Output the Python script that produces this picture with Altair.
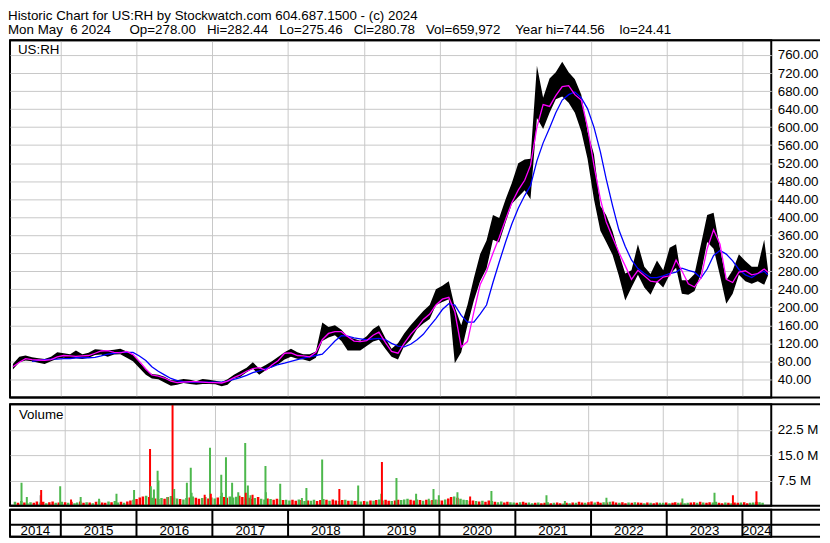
import altair as alt
import pandas as pd

FONT = "Liberation Sans"
FS = 13.4
W, H_PRICE, H_VOL, H_AX = 765, 359, 102, 27
EXT = 49
GREEN, RED, GRAY = "#4db84d", "#ff0000", "#a0a0a0"
CMAP = {"g": GREEN, "r": RED, "a": GRAY}
NB = "\u00a0"

TITLE_1 = "Historic Chart for US:RH by Stockwatch.com 604.687.1500 - (c) 2024"
TITLE_2 = ("Mon May" + NB * 2 + "6 2024" + NB * 5 + "Op=278.00" + NB * 3 + "Hi=282.44" + NB * 3 +
           "Lo=275.46" + NB * 3 + "Cl=280.78" + NB * 3 + "Vol=659,972" + NB * 4 +
           "Year hi=744.56" + NB * 4 + "lo=24.41")

# ---- price envelope by month (May 2014 .. May 2024) ----
low_2014 = [62, 78, 82, 80, 77, 74, 80, 86]
low_2015 = [88, 86, 87, 85, 88, 94, 95, 90, 95, 96, 88, 80]
low_2016 = [65, 50, 42, 40, 33, 26, 28, 32, 30, 28, 30, 30]
low_2017 = [29, 25, 28, 42, 45, 56, 64, 50, 60, 67, 74, 84]
low_2018 = [90, 86, 84, 80, 88, 125, 133, 138, 125, 104, 104, 104]
low_2019 = [114, 124, 128, 108, 90, 84, 114, 128, 152, 164, 174, 205]
low_2020 = [212, 218, 76, 100, 160, 215, 258, 286, 350, 344, 388, 430]
low_2021 = [445, 460, 440, 620, 596, 632, 662, 668, 654, 632, 590, 530]
low_2022 = [440, 370, 345, 316, 270, 215, 244, 272, 244, 228, 258, 244]
low_2023 = [272, 288, 230, 228, 236, 275, 345, 330, 270, 208, 230, 272]
low_2024 = [258, 252, 258, 250, 270]

high_2014 = [74, 90, 93, 89, 87, 85, 90, 100]
high_2015 = [98, 96, 104, 96, 99, 107, 106, 104, 106, 108, 102, 94]
high_2016 = [78, 62, 52, 50, 46, 38, 38, 41, 39, 36, 41, 39]
high_2017 = [37, 34, 40, 50, 58, 66, 78, 64, 72, 80, 90, 100]
high_2018 = [108, 100, 96, 96, 102, 166, 156, 160, 150, 135, 130, 126]
high_2019 = [136, 152, 160, 132, 108, 120, 142, 160, 176, 192, 205, 240]
high_2020 = [248, 258, 200, 160, 205, 265, 318, 348, 405, 398, 440, 476]
high_2021 = [520, 528, 530, 736, 665, 708, 722, 745, 722, 706, 672, 590]
high_2022 = [540, 425, 405, 368, 320, 275, 282, 340, 290, 274, 304, 282]
high_2023 = [332, 340, 260, 260, 274, 340, 405, 410, 330, 260, 282, 318]
high_2024 = [303, 290, 290, 350, 285]

# short moving average (magenta), May 2014 .. May 2024
fast_2014 = [68, 78, 86, 84, 83, 82, 84, 90]
fast_2015 = [93, 92, 91, 92, 93, 98, 103, 104, 100, 99, 102, 95]
fast_2016 = [80, 63, 50, 47, 43, 36, 33, 34, 35, 35, 34, 33]
fast_2017 = [33, 32, 36, 44, 50, 58, 64, 66, 60, 72, 82, 98]
fast_2018 = [99, 93, 92, 90, 100, 128, 142, 146, 146, 135, 125, 124]
fast_2019 = [126, 138, 145, 122, 102, 98, 120, 140, 155, 173, 185, 205]
fast_2020 = [218, 222, 190, 112, 124, 190, 250, 280, 320, 355, 395, 432]
fast_2021 = [460, 482, 515, 600, 650, 646, 670, 690, 692, 672, 660, 600]
fast_2022 = [515, 440, 390, 355, 322, 292, 262, 282, 270, 258, 256, 267]
fast_2023 = [270, 305, 281, 252, 245, 265, 330, 372, 340, 262, 255, 278]
fast_2024 = [281, 272, 275, 285, 278]

# long moving average (blue), Aug 2014 .. May 2024
slow_2014 = [80, 82, 84, 85, 85]
slow_2015 = [86, 86, 88, 88, 88, 89, 92, 96, 98, 100, 100, 100]
slow_2016 = [92, 82, 68, 58, 50, 42, 37, 35, 34, 34, 34, 34]
slow_2017 = [34, 34, 36, 40, 44, 49, 55, 59, 64, 68, 73, 76]
slow_2018 = [80, 84, 87, 90, 93, 96, 110, 125, 137, 136, 132, 130]
slow_2019 = [128, 130, 131, 128, 120, 114, 112, 118, 128, 140, 158, 175]
slow_2020 = [195, 208, 205, 182, 167, 167, 185, 205, 255, 300, 345, 385]
slow_2021 = [420, 448, 470, 525, 565, 598, 632, 660, 672, 678, 665, 641]
slow_2022 = [600, 545, 485, 425, 372, 335, 305, 286, 275, 266, 266, 270]
slow_2023 = [275, 278, 287, 282, 278, 265, 285, 315, 326, 318, 303, 284]
slow_2024 = [272, 266, 275, 280, 272]

# ---- half-monthly volume (millions) and bar colours ----
v2014 = [1.2, 0.9, 1.4, 1.0, 0.8, 1.1, 0.9, 1.3, 1.0, 1.2, 0.8, 1.1, 1.3, 0.9, 1.0, 1.2]
v2015 = [1.1, 0.9, 1.2, 0.8, 1.0, 1.3, 0.9, 1.1, 1.0, 0.8, 1.2, 1.5, 1.0, 0.9, 1.3, 1.1, 1.4, 1.0, 1.2, 0.9, 1.3, 1.6, 1.8, 2.0]
v2016 = [2.5, 2.8, 3.0, 2.6, 2.4, 2.2, 2.0, 2.3, 2.1, 2.6, 2.9, 2.4, 2.2, 2.0, 1.9, 2.3, 2.5, 2.8, 2.4, 2.1, 2.3, 2.6, 2.2, 2.5]
v2017 = [2.2, 2.5, 2.9, 2.6, 2.4, 2.8, 2.5, 2.7, 3.0, 2.6, 2.2, 2.4, 2.0, 2.3, 2.6, 2.1, 1.9, 2.2, 2.0, 1.8, 2.1, 1.9, 1.7, 1.8]
v2018 = [1.6, 1.8, 1.5, 1.9, 1.7, 1.4, 1.6, 1.5, 1.8, 1.4, 1.7, 2.0, 1.8, 1.5, 1.9, 1.6, 1.4, 1.7, 1.8, 1.5, 1.6, 1.4, 1.5, 1.3]
v2019 = [1.4, 1.3, 1.6, 1.5, 1.7, 1.9, 1.6, 1.8, 1.5, 1.4, 1.6, 1.8, 1.7, 1.9, 2.1, 1.8, 1.6, 1.9, 1.7, 1.5, 1.8, 1.6, 1.7, 1.9]
v2020 = [1.8, 1.6, 1.9, 2.2, 2.6, 2.8, 2.4, 2.1, 1.8, 1.7, 1.5, 1.6, 1.4, 1.3, 1.5, 1.2, 1.6, 1.4, 1.2, 1.1, 1.3, 1.0, 1.2, 1.1]
v2021 = [1.0, 0.9, 1.1, 1.2, 0.9, 1.0, 0.8, 0.9, 1.0, 0.8, 0.9, 1.1, 0.8, 0.9, 1.0, 0.8, 0.7, 0.9, 0.8, 1.0, 0.9, 1.2, 1.0, 0.9]
v2022 = [1.1, 1.3, 1.0, 1.2, 0.9, 1.1, 1.0, 1.2, 1.3, 1.0, 0.9, 1.1, 0.8, 1.0, 0.9, 1.1, 1.0, 0.9, 0.8, 1.0, 0.9, 0.8, 1.0, 0.9]
v2023 = [0.9, 1.0, 0.8, 0.9, 1.1, 0.9, 1.0, 0.8, 0.9, 1.0, 1.1, 0.9, 1.2, 1.0, 0.9, 1.1, 1.0, 1.2, 0.9, 0.8, 1.0, 0.9, 0.8, 1.0]
v2024 = [0.9, 1.0, 1.1, 0.8, 0.9, 1.0, 1.2, 1.1, 0.9]

c2014 = "grgrggrrgrgrrgrg"
c2015 = "rgrggrrgrgrgrrgrggrgrrgr"
c2016 = "rrgrgrggrrgrgrggrgrrggrg"
c2017 = "grgrrgggrrgrrgrggrgrrgrg"
c2018 = "grrgrgrggrrgrgrrgrgrgrrg"
c2019 = "rgrgrggrrgrrgggrrgrgrgrg"
c2020 = "rrgrrgrgggrrgrgrrgrggrrg"
c2021 = "grgrrggrgrrgrgrrgrgrgrrg"
c2022 = "rrgrrgrgrrgrrgrgrrgrgrrg"
c2023 = "grgrrgrggrrgrgrrggrrgrgr"
c2024 = "rgrrggrgg"

# volume spikes
spike_dates = ["2014-06-02", "2014-06-28", "2014-09-03", "2014-09-06", "2014-12-08", "2015-01-30",
               "2015-03-18", "2015-06-16", "2015-09-09", "2015-12-04", "2016-02-20", "2016-02-24",
               "2016-03-10", "2016-03-28", "2016-04-01", "2016-05-15", "2016-06-09", "2016-06-17",
               "2016-08-18", "2016-09-06", "2016-09-10", "2016-11-13", "2016-12-09", "2016-12-13",
               "2017-02-02", "2017-02-05", "2017-02-25", "2017-03-27", "2017-04-26", "2017-05-30",
               "2017-06-02", "2017-06-12", "2017-06-25", "2017-07-05", "2017-09-06", "2017-09-08",
               "2017-11-17", "2018-03-03", "2018-03-25", "2018-06-10", "2018-09-02", "2018-12-03",
               "2019-03-26", "2019-03-29", "2019-06-08", "2019-09-12", "2019-11-13", "2019-12-06",
               "2020-01-01", "2020-04-01", "2020-06-02", "2020-09-14", "2021-06-10", "2021-09-08",
               "2022-03-30", "2023-04-05", "2023-09-09", "2023-12-08", "2024-04-01"]
spike_vals = [6.8, 2.6, 3.1, 4.7, 5.8, 1.9,
              2.6, 2.1, 3.6, 4.7, 16.8, 5.8,
              4.8, 10.4, 7.5, 2.6, 31.0, 5.0,
              6.8, 11.3, 3.9, 3.3, 17.2, 3.6,
              9.2, 3.9, 14.4, 6.8, 4.0, 18.6,
              3.9, 6.0, 3.1, 3.3, 11.8, 4.0,
              6.5, 2.3, 5.3, 13.7, 5.0, 6.0,
              3.6, 13.0, 8.2, 3.6, 2.1, 5.0,
              3.1, 4.0, 2.8, 4.4, 3.1, 1.4,
              2.4, 2.2, 3.9, 3.1, 4.3]
spike_cols = "ggargrggggrgggggrggggrgrggggggrggrggggggrggrggggggrgggg" + "ggrrg"

# ---------------- tables ----------------
months = pd.date_range("2014-05-01", "2024-05-01", freq="MS")
mid = [d + pd.Timedelta(days=14) for d in months[:-1]] + [months[-1] + pd.Timedelta(days=2)]

lows = low_2014 + low_2015 + low_2016 + low_2017 + low_2018 + low_2019 + low_2020 + low_2021 + low_2022 + low_2023 + low_2024
highs = high_2014 + high_2015 + high_2016 + high_2017 + high_2018 + high_2019 + high_2020 + high_2021 + high_2022 + high_2023 + high_2024
fast = fast_2014 + fast_2015 + fast_2016 + fast_2017 + fast_2018 + fast_2019 + fast_2020 + fast_2021 + fast_2022 + fast_2023 + fast_2024
slow = slow_2014 + slow_2015 + slow_2016 + slow_2017 + slow_2018 + slow_2019 + slow_2020 + slow_2021 + slow_2022 + slow_2023 + slow_2024

price_df = pd.DataFrame({"date": mid, "low": lows, "high": highs, "fast": fast})
slow_df = pd.DataFrame({"date": mid[3:], "slow": slow})

half_dates = []
for m in months:
    half_dates.append(m)
    if m != months[-1]:
        half_dates.append(m + pd.Timedelta(days=15))
vols = v2014 + v2015 + v2016 + v2017 + v2018 + v2019 + v2020 + v2021 + v2022 + v2023 + v2024
cols = c2014 + c2015 + c2016 + c2017 + c2018 + c2019 + c2020 + c2021 + c2022 + c2023 + c2024
vol_df = pd.DataFrame({"date": half_dates, "v": vols, "c": [CMAP[c] for c in cols]})

spike_df = pd.DataFrame({"date": pd.to_datetime(spike_dates), "v": spike_vals,
                         "c": [CMAP[c] for c in spike_cols[:len(spike_vals)]]})

D0, D1 = pd.Timestamp("2014-05-01"), pd.Timestamp("2024-05-19")
xscale = alt.Scale(domain=[alt.DateTime(year=2014, month=5, date=1), alt.DateTime(year=2024, month=5, date=19)])
grid_axis = alt.Axis(values=[alt.DateTime(year=y, month=1, date=1) for y in range(2015, 2025)],
                     labels=False, ticks=False, domain=False, title=None, grid=True)
X = alt.X("date:T", scale=xscale, axis=grid_axis)
Xn = alt.X("date:T", scale=xscale, axis=None)

price_axis = alt.Axis(orient="right", values=list(range(40, 761, 40)), format=".2f", title=None,
                      grid=True, labelPadding=6, labelOverlap=False)
pscale = alt.Scale(domain=[0, 793], nice=False, zero=False)


def hline(y):
    return alt.Chart(pd.DataFrame({"k": [0]})).mark_rule(color="black", strokeWidth=2).encode(
        x=alt.value(0), x2=alt.value(W + EXT), y=alt.value(y))


def label(txt, x, y):
    return alt.Chart(pd.DataFrame({"t": [txt]})).mark_text(
        align="left", baseline="top", font=FONT, fontSize=FS, color="black").encode(
        text="t:N", x=alt.value(x), y=alt.value(y))


band = alt.Chart(price_df).mark_area(color="black", clip=True).encode(
    x=X, y=alt.Y("low:Q", scale=pscale, axis=price_axis), y2="high:Q")
slow_line = alt.Chart(slow_df).mark_line(color="#0000ff", strokeWidth=1.3, clip=True).encode(
    x=X, y=alt.Y("slow:Q", scale=pscale, axis=price_axis))
fast_line = alt.Chart(price_df).mark_line(color="#ff00ff", strokeWidth=1.3, clip=True).encode(
    x=X, y=alt.Y("fast:Q", scale=pscale, axis=price_axis))
price = alt.layer(band, slow_line, fast_line, label("US:RH", 8, 3), hline(0), hline(H_PRICE)).properties(
    width=W, height=H_PRICE)

vscale = alt.Scale(domain=[0, 30], nice=False)
vol_axis = alt.Axis(orient="right", values=[7.5, 15, 22.5], labelExpr="format(datum.value, '.1f') + ' M'",
                    title=None, grid=True, labelPadding=6)
vbase = alt.Chart(vol_df).mark_bar(width=2.5, clip=True).encode(
    x=X, y=alt.Y("v:Q", scale=vscale, axis=vol_axis), color=alt.Color("c:N", scale=None))
vspike = alt.Chart(spike_df).mark_bar(width=2, clip=True).encode(
    x=X, y=alt.Y("v:Q", scale=vscale, axis=vol_axis), color=alt.Color("c:N", scale=None))
volume = alt.layer(vbase, vspike, label("Volume", 9, 4), hline(0), hline(H_VOL)).properties(
    width=W, height=H_VOL)

year_df = pd.DataFrame({"date": [pd.Timestamp(f"{y}-01-01") for y in range(2015, 2025)]})
lab_rows = []
for y in range(2014, 2025):
    s = max(pd.Timestamp(f"{y}-01-01"), D0)
    e = min(pd.Timestamp(f"{y + 1}-01-01"), D1)
    lab_rows.append({"date": s + (e - s) / 2, "label": str(y)})
lab_df = pd.DataFrame(lab_rows)

sep = alt.Chart(year_df).mark_rule(color="black", strokeWidth=2).encode(
    x=Xn, y=alt.value(0), y2=alt.value(H_AX))
years = alt.Chart(lab_df).mark_text(font=FONT, fontSize=FS, color="black", baseline="middle").encode(
    x=Xn, y=alt.value(21.5), text="label:N")
bottom = alt.layer(sep, years, hline(0), hline(15), hline(H_AX)).properties(width=W, height=H_AX)

chart = alt.vconcat(price, alt.vconcat(volume, bottom, spacing=0), spacing=3).properties(
    title=alt.TitleParams(text=[TITLE_1, TITLE_2], anchor="start", font=FONT, fontSize=FS,
                          fontWeight="normal", color="black", lineHeight=13.5, offset=2, dx=0),
    padding={"left": 0, "right": 0, "top": 0, "bottom": 0},
).configure_view(stroke="black", strokeWidth=2).configure_axis(
    labelFont=FONT, labelFontSize=FS, labelColor="black", gridColor="#c8c8c8", gridWidth=1,
    domain=False, ticks=False)

chart.save("out.html", embed_options={"renderer": "svg", "actions": False})
